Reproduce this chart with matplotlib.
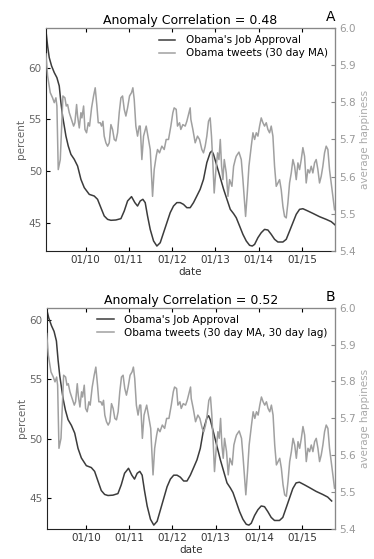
import numpy as np
import pandas as pd
import matplotlib
matplotlib.use("Agg")
import matplotlib.pyplot as plt
import matplotlib.dates as mdates

# Obama's job approval (percent), decimal year
approval_year = [2009.060, 2009.083, 2009.122, 2009.160, 2009.214, 2009.276, 2009.337,
                 2009.391, 2009.430, 2009.468, 2009.507, 2009.545, 2009.599, 2009.661,
                 2009.738, 2009.815, 2009.892, 2009.969, 2010.085, 2010.200, 2010.277,
                 2010.354, 2010.431, 2010.509, 2010.586, 2010.701, 2010.817, 2010.894,
                 2010.971, 2011.063, 2011.140, 2011.202, 2011.264, 2011.325, 2011.379,
                 2011.433, 2011.495, 2011.572, 2011.649, 2011.726, 2011.803, 2011.880,
                 2011.957, 2012.034, 2012.111, 2012.188, 2012.265, 2012.342, 2012.419,
                 2012.496, 2012.573, 2012.650, 2012.727, 2012.804, 2012.881, 2012.920,
                 2012.958, 2013.035, 2013.113, 2013.190, 2013.267, 2013.344, 2013.421,
                 2013.482, 2013.559, 2013.636, 2013.713, 2013.790, 2013.852, 2013.906,
                 2013.983, 2014.060, 2014.137, 2014.214, 2014.291, 2014.368, 2014.445,
                 2014.561, 2014.638, 2014.715, 2014.792, 2014.869, 2014.946, 2015.023,
                 2015.139, 2015.254, 2015.408, 2015.562, 2015.678, 2015.770]
approval_pct = [64.3, 63.6, 62.10, 60.97, 60.16, 59.52, 59.03,
                58.23, 56.61, 55.32, 54.35, 53.39, 52.42, 51.61,
                51.13, 50.48, 49.19, 48.39, 47.74, 47.58, 47.26,
                46.45, 45.65, 45.32, 45.23, 45.26, 45.39, 46.13,
                47.10, 47.52, 46.94, 46.61, 47.10, 47.26, 46.94,
                45.65, 44.35, 43.23, 42.74, 43.06, 44.03, 45.00,
                45.97, 46.61, 46.94, 46.94, 46.77, 46.45, 46.45,
                46.94, 47.58, 48.23, 49.19, 50.81, 51.77, 51.94,
                51.61, 50.48, 49.35, 48.23, 47.26, 46.29, 45.87,
                45.48, 44.68, 43.87, 43.23, 42.81, 42.74, 42.90,
                43.55, 44.03, 44.35, 44.29, 43.87, 43.39, 43.13,
                43.13, 43.39, 44.19, 45.00, 45.81, 46.29, 46.35,
                46.13, 45.90, 45.58, 45.32, 45.10, 44.77]

# Obama tweets average happiness (30 day MA), decimal year
tweets_year = [2009.083, 2009.122, 2009.183, 2009.237, 2009.276, 2009.314, 2009.337,
               2009.368, 2009.415, 2009.445, 2009.476, 2009.522, 2009.553, 2009.584,
               2009.623, 2009.661, 2009.723, 2009.753, 2009.792, 2009.815, 2009.854,
               2009.892, 2009.915, 2009.954, 2009.985, 2010.023, 2010.062, 2010.092,
               2010.139, 2010.185, 2010.223, 2010.262, 2010.293, 2010.339, 2010.370,
               2010.401, 2010.431, 2010.470, 2010.509, 2010.547, 2010.586, 2010.624,
               2010.663, 2010.701, 2010.740, 2010.778, 2010.817, 2010.855, 2010.894,
               2010.932, 2010.971, 2011.017, 2011.063, 2011.094, 2011.125, 2011.163,
               2011.202, 2011.240, 2011.264, 2011.302, 2011.341, 2011.402, 2011.495,
               2011.549, 2011.587, 2011.633, 2011.664, 2011.710, 2011.764, 2011.818,
               2011.864, 2011.918, 2011.972, 2012.019, 2012.049, 2012.096, 2012.126,
               2012.173, 2012.203, 2012.250, 2012.304, 2012.342, 2012.381, 2012.419,
               2012.435, 2012.481, 2012.535, 2012.589, 2012.635, 2012.689, 2012.727,
               2012.766, 2012.804, 2012.843, 2012.881, 2012.912, 2012.943, 2012.974,
               2013.012, 2013.051, 2013.082, 2013.113, 2013.143, 2013.174, 2013.205,
               2013.251, 2013.290, 2013.328, 2013.382, 2013.421, 2013.459, 2013.482,
               2013.544, 2013.598, 2013.636, 2013.698, 2013.737, 2013.775, 2013.829,
               2013.868, 2013.906, 2013.945, 2013.983, 2014.022, 2014.060, 2014.099,
               2014.137, 2014.176, 2014.214, 2014.253, 2014.291, 2014.330, 2014.368,
               2014.407, 2014.445, 2014.484, 2014.522, 2014.561, 2014.599, 2014.638,
               2014.676, 2014.715, 2014.754, 2014.792, 2014.831, 2014.869, 2014.908,
               2014.946, 2014.985, 2015.023, 2015.062, 2015.100, 2015.139, 2015.177,
               2015.216, 2015.254, 2015.293, 2015.331, 2015.370, 2015.408, 2015.447,
               2015.485, 2015.524, 2015.562, 2015.601, 2015.639, 2015.678, 2015.717,
               2015.755]
tweets_happ = [5.930, 5.871, 5.826, 5.812, 5.799, 5.812, 5.790,
               5.619, 5.646, 5.727, 5.817, 5.812, 5.790, 5.794,
               5.772, 5.758, 5.736, 5.745, 5.794, 5.763, 5.731,
               5.772, 5.758, 5.790, 5.727, 5.718, 5.745, 5.736,
               5.785, 5.817, 5.839, 5.790, 5.745, 5.745, 5.736,
               5.749, 5.709, 5.691, 5.682, 5.691, 5.740, 5.727,
               5.700, 5.696, 5.718, 5.772, 5.812, 5.817, 5.781,
               5.763, 5.785, 5.817, 5.826, 5.839, 5.808, 5.736,
               5.709, 5.736, 5.736, 5.646, 5.709, 5.736, 5.673,
               5.547, 5.619, 5.655, 5.673, 5.664, 5.682, 5.673,
               5.700, 5.700, 5.736, 5.772, 5.785, 5.781, 5.736,
               5.745, 5.727, 5.740, 5.736, 5.749, 5.767, 5.785,
               5.754, 5.727, 5.691, 5.709, 5.700, 5.673, 5.664,
               5.682, 5.709, 5.749, 5.758, 5.709, 5.637, 5.556,
               5.619, 5.664, 5.646, 5.700, 5.628, 5.592, 5.646,
               5.610, 5.547, 5.592, 5.574, 5.628, 5.646, 5.655,
               5.666, 5.646, 5.592, 5.493, 5.556, 5.628, 5.682,
               5.718, 5.700, 5.718, 5.709, 5.736, 5.758, 5.745,
               5.736, 5.745, 5.727, 5.718, 5.736, 5.709, 5.628,
               5.574, 5.583, 5.592, 5.565, 5.520, 5.493, 5.489,
               5.529, 5.583, 5.610, 5.646, 5.628, 5.592, 5.637,
               5.619, 5.646, 5.678, 5.655, 5.583, 5.619, 5.610,
               5.628, 5.610, 5.637, 5.646, 5.619, 5.583, 5.601,
               5.628, 5.664, 5.682, 5.673, 5.619, 5.583, 5.547,
               5.511]

lag_days = 30
x_range = (2009.085, 2015.768)
year_ticks = [2010, 2011, 2012, 2013, 2014, 2015]


def to_dates(years):
    return [pd.Timestamp(int(y), 1, 1) + pd.Timedelta(days=(y - int(y)) * 365.25) for y in years]


app_dates = pd.to_datetime(to_dates(approval_year))
tw_dates = pd.to_datetime(to_dates(tweets_year))
xlim = to_dates(x_range)

dark = '#3c3c3c'
light = '#a0a0a0'

fig = plt.figure(figsize=(3.74, 5.59), dpi=100)
panels = [
    dict(rect=[0.123, 0.551, 0.773, 0.399], shift=0, ylim=(42.26, 63.84),
         title='Anomaly Correlation = 0.48', letter='A',
         tw_label='Obama tweets (30 day MA)'),
    dict(rect=[0.125, 0.0534, 0.771, 0.3962], shift=lag_days, ylim=(42.4, 61.03),
         title='Anomaly Correlation = 0.52', letter='B',
         tw_label='Obama tweets (30 day MA, 30 day lag)'),
]

for p in panels:
    ax = fig.add_axes(p['rect'])
    ax2 = ax.twinx()
    l1, = ax.plot(app_dates - pd.Timedelta(days=p['shift']), approval_pct,
                  color=dark, lw=1.1, label="Obama's Job Approval")
    l2, = ax2.plot(tw_dates, tweets_happ, color=light, lw=1.1, label=p['tw_label'])
    ax.set_xlim(xlim)
    ax.set_ylim(p['ylim'])
    ax2.set_ylim(5.4, 6.0)
    ax.set_yticks([45, 50, 55, 60])
    ax2.set_yticks(np.arange(5.4, 6.01, 0.1))
    ax2.yaxis.set_major_formatter(plt.FormatStrFormatter('%.1f'))
    ax.xaxis.set_major_locator(mdates.YearLocator())
    ax.xaxis.set_major_formatter(mdates.DateFormatter('%m/%y'))

    ax.tick_params(axis='x', direction='in', top=True, length=3, labelsize=7.5,
                   labelcolor='#333333', pad=3)
    ax.tick_params(axis='y', direction='in', length=3, labelsize=7.5,
                   labelcolor='#666666', pad=3)
    ax2.tick_params(axis='y', direction='in', length=3, labelsize=7.5,
                    labelcolor='#999999', color='#888888', pad=3)
    for s in ['left', 'bottom']:
        ax.spines[s].set_color('#222222')
        ax2.spines[s].set_visible(False)
    for s in ['top', 'right']:
        ax2.spines[s].set_color('#888888')

    ax.set_xlabel('date', fontsize=7.5, color='#333333', labelpad=1)
    ax.set_ylabel('percent', fontsize=7.5, color='#666666', labelpad=2)
    ax2.set_ylabel('average happiness', fontsize=7.5, color='#aaaaaa', labelpad=3)
    ax.set_title(p['title'], fontsize=9, pad=3)
    ax.text(0.983, 1.05, p['letter'], transform=ax.transAxes, fontsize=10,
            ha='center', va='center')

    ax2.legend([l1, l2], [l1.get_label(), l2.get_label()], loc='upper right',
               frameon=False, fontsize=7.5, handlelength=1.6, handletextpad=1.0,
               borderaxespad=0.3, labelspacing=0.3)

fig.savefig('out.png', dpi=100)
